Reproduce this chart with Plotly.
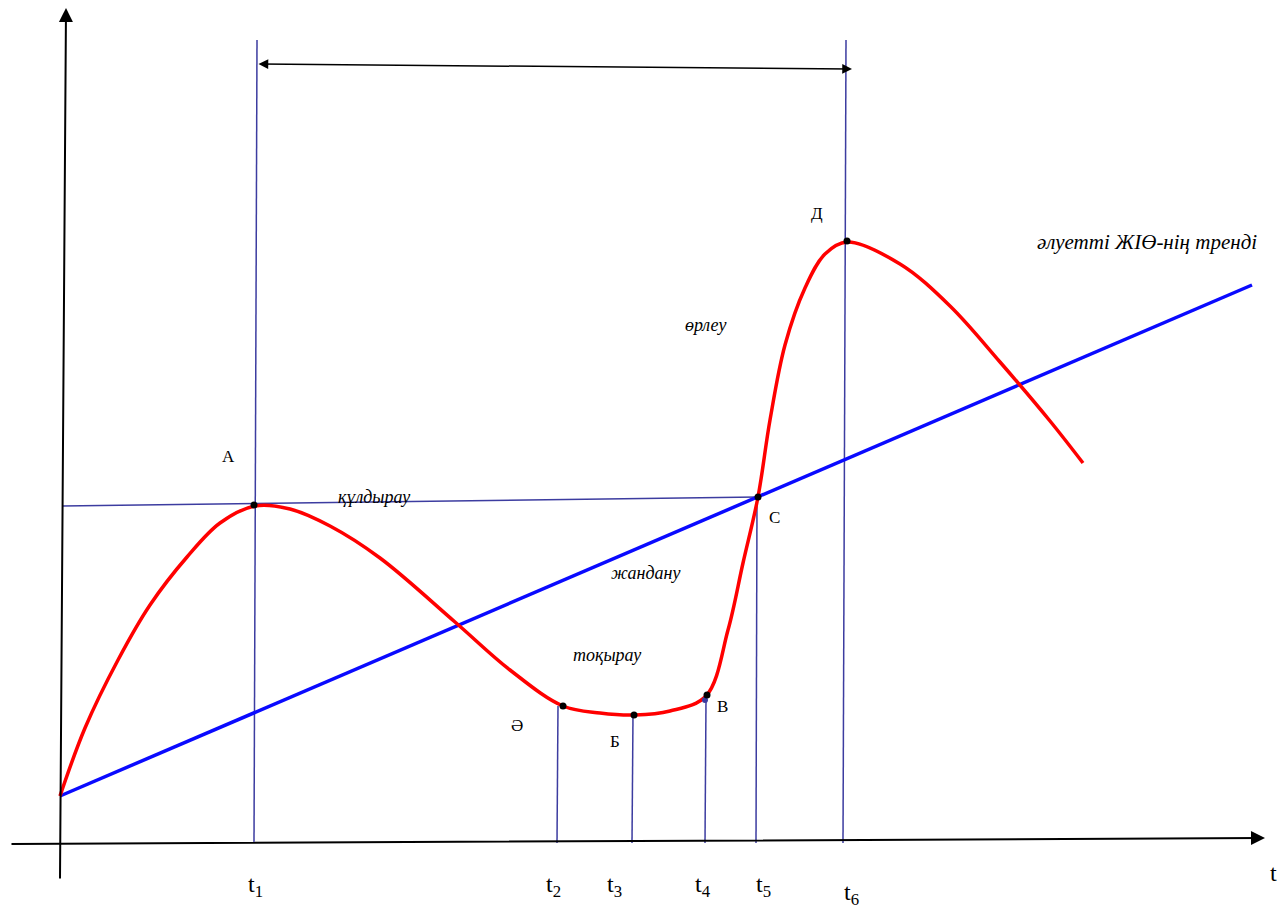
import plotly.graph_objects as go

# business cycle curve (time, GDP level; y grows downward)
cycle_t = [60, 85, 118, 150, 187, 220, 255, 290, 330, 380, 455, 510,
           563, 600, 635, 670, 706, 728, 743, 758, 770, 785, 805, 825,
           847, 900, 950, 1000, 1050, 1083]
cycle_gdp = [796, 728, 660, 605, 557, 523, 506, 509, 526, 558, 622, 670,
             706, 713, 715, 711, 696, 630, 563, 497, 420, 345, 288, 254,
             242, 264, 306, 362, 421, 463]

# potential GDP trend
trend_t = [60, 1252]
trend_gdp = [796, 285]

# turning points
point_names = ["А", "Ә", "Б", "В", "С", "Д"]
point_t = [254, 563, 634, 707, 758, 847]
point_gdp = [505, 706, 715, 695, 497, 241]
point_label_t = [228, 517, 615, 722, 774, 817]
point_label_gdp = [456, 725, 741, 706, 517, 213]

# vertical markers t1..t6
tick_names = ["t<sub>1</sub>", "t<sub>2</sub>", "t<sub>3</sub>", "t<sub>4</sub>",
              "t<sub>5</sub>", "t<sub>6</sub>"]
tick_t = [254, 557, 632, 705, 756, 843]
tick_top = [40, 706, 715, 700, 497, 40]
tick_label_t = [255, 553, 614, 703, 763, 851]
tick_label_y = [886, 886, 886, 886, 886, 894]

# phase labels
phase_names = ["құлдырау", "жандану", "тоқырау", "өрлеу", "әлуетті ЖІӨ-нің тренді"]
phase_t = [374, 645, 607, 706, 1147]
phase_y = [497, 573, 655, 325, 242]
phase_size = [18, 18, 18, 18, 21]

axis_y = 843
line_col = "#3c3ca0"
serif = "Liberation Serif"

fig = go.Figure()

for t, top in zip(tick_t, tick_top):
    fig.add_trace(go.Scatter(x=[t, t + (3 if top < 100 else 1)], y=[axis_y, top],
                             mode="lines", line=dict(color=line_col, width=1.5),
                             hoverinfo="skip"))

# horizontal level line A - C
fig.add_trace(go.Scatter(x=[62, point_t[4]], y=[506, point_gdp[4]], mode="lines",
                         line=dict(color=line_col, width=1.5), hoverinfo="skip"))

fig.add_trace(go.Scatter(x=trend_t, y=trend_gdp, mode="lines",
                         line=dict(color="#0a0aff", width=3.5)))
fig.add_trace(go.Scatter(x=cycle_t, y=cycle_gdp, mode="lines",
                         line=dict(color="#ff0000", width=3.5, shape="spline", smoothing=1.0)))
# small blue end of the t4 marker
fig.add_trace(go.Scatter(x=[tick_t[3]], y=[tick_top[3]], mode="markers",
                         marker=dict(color=line_col, size=6)))
fig.add_trace(go.Scatter(x=point_t, y=point_gdp, mode="markers",
                         marker=dict(color="black", size=7)))

annotations = []
for name, x, y in zip(point_names, point_label_t, point_label_gdp):
    annotations.append(dict(x=x, y=y, text=name, showarrow=False,
                            font=dict(family=serif, size=17, color="black")))
for name, x, y, s in zip(phase_names, phase_t, phase_y, phase_size):
    annotations.append(dict(x=x, y=y, text="<i>" + name + "</i>", showarrow=False,
                            font=dict(family=serif, size=s, color="black")))
for name, x, y in zip(tick_names, tick_label_t, tick_label_y):
    annotations.append(dict(x=x, y=y, text=name, showarrow=False,
                            font=dict(family=serif, size=24, color="black")))
annotations.append(dict(x=1273, y=873, text="t", showarrow=False,
                        font=dict(family=serif, size=24, color="black")))

# axes with arrowheads
arrow = dict(xref="x", yref="y", axref="x", ayref="y", text="", showarrow=True,
             arrowcolor="black", arrowhead=2)
annotations.append(dict(arrow, x=66, y=8, ax=60, ay=880, arrowwidth=2, arrowsize=1.4))
annotations.append(dict(arrow, x=1265, y=838, ax=10, ay=844, arrowwidth=2, arrowsize=1.4))
annotations.append(dict(arrow, x=852, y=69, ax=257, ay=64, arrowwidth=1.5, arrowsize=1.3,
                        arrowside="end+start"))

# the page body adds an 8px offset, so the plot covers [8, 1285] x [8, 909]
fig.update_layout(
    width=1277, height=901,
    margin=dict(l=0, r=0, t=0, b=0),
    plot_bgcolor="white", paper_bgcolor="white",
    showlegend=False,
    annotations=annotations,
    xaxis=dict(range=[8, 1285], visible=False, fixedrange=True),
    yaxis=dict(range=[909, 8], visible=False, fixedrange=True),
)

fig.write_html("out.html")
